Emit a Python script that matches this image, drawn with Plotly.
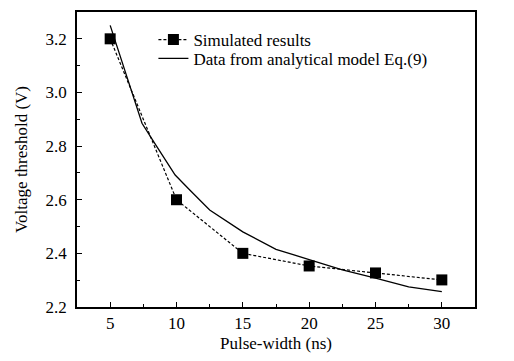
import plotly.graph_objects as go

# Simulated results
sim_x = [5, 10, 15, 20, 25, 30]
sim_y = [3.20, 2.60, 2.40, 2.353, 2.327, 2.301]

# Analytical model curve
model_x = [5.0, 7.4, 8.3, 9.9, 11.0, 12.5, 15, 17.5, 20, 22.5, 25, 27.5, 30]
model_y = [3.25, 2.885, 2.815, 2.692, 2.636, 2.562, 2.48, 2.415, 2.377, 2.338, 2.308, 2.275, 2.257]

x_ticks = [5, 10, 15, 20, 25, 30]
y_ticks = [2.2, 2.4, 2.6, 2.8, 3.0, 3.2]

font = "Liberation Serif"

fig = go.Figure()
fig.add_trace(go.Scatter(
    x=sim_x, y=sim_y, mode="lines+markers", name="Simulated results",
    line=dict(color="black", width=1.2, dash="3px,2px"),
    marker=dict(symbol="square", size=11, color="black"),
    legend="legend",
))
fig.add_trace(go.Scatter(
    x=model_x, y=model_y, mode="lines", name="Data from analytical model Eq.(9)",
    line=dict(color="black", width=1.3),
    legend="legend2",
))

axis_common = dict(
    showline=True, linecolor="black", linewidth=1.5, mirror=True,
    ticks="inside", ticklen=5, tickwidth=1, tickcolor="black",
    showgrid=False, zeroline=False, automargin=False,
    tickfont=dict(family=font, size=17, color="black"),
)

fig.update_xaxes(
    range=[2.5, 32.5], tickvals=x_ticks, ticktext=[str(v) for v in x_ticks],
    minor=dict(ticks="inside", ticklen=3, tickcolor="black", dtick=2.5, tick0=0, showgrid=False),
    title=dict(text="Pulse-width (ns)", font=dict(family=font, size=17, color="black"), standoff=9),
    **axis_common,
)
fig.update_yaxes(
    range=[2.2, 3.3], tickvals=y_ticks, ticktext=[f"{v:.1f}" for v in y_ticks],
    minor=dict(ticks="inside", ticklen=3, tickcolor="black", dtick=0.1, tick0=0, showgrid=False),
    ticklabelstandoff=5,
    title=dict(text="Voltage threshold (V)", font=dict(family=font, size=17, color="black"), standoff=14),
    **axis_common,
)

legend_common = dict(
    xanchor="left", yanchor="middle",
    bgcolor="rgba(0,0,0,0)", borderwidth=0,
    font=dict(family=font, size=17, color="black"),
    itemwidth=30,
)

# page body has an 8px margin, so the figure is sized to fit inside the window
fig.update_layout(
    width=498, height=345,
    margin=dict(l=69, r=31, t=4, b=46),
    paper_bgcolor="white", plot_bgcolor="white",
    showlegend=True,
    font=dict(family=font, size=17, color="black"),
    legend=dict(x=0.192, y=0.905, **legend_common),
    legend2=dict(x=0.192, y=0.841, **legend_common),
)

fig.write_html("out.html")
